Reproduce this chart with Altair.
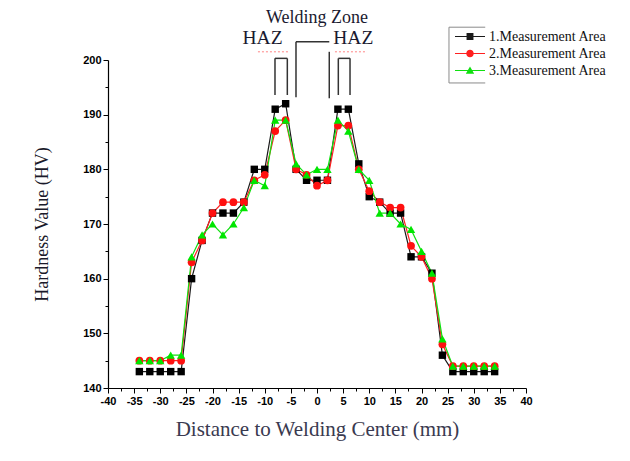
import altair as alt
import pandas as pd

# ---- data ----
distance = [-34, -32, -30, -28, -26, -24, -22, -20, -18, -16, -14, -12, -10, -8, -6, -4, -2, 0,
            2, 4, 6, 8, 10, 12, 14, 16, 18, 20, 22, 24, 26, 28, 30, 32, 34]
area1 = [143, 143, 143, 143, 143, 160, 167, 172, 172, 172, 174, 180, 180, 191, 192, 180, 178, 178,
         178, 191, 191, 181, 175, 174, 172, 172, 164, 164, 161, 146, 143, 143, 143, 143, 143]
area2 = [145, 145, 145, 145, 145, 163, 167, 172, 174, 174, 174, 178, 179, 187, 189, 180, 179, 177,
         178, 188, 188, 180, 176, 174, 173, 173, 166, 164, 160, 148, 144, 144, 144, 144, 144]
area3 = [145, 145, 145, 146, 146, 164, 168, 170, 168, 170, 173, 178, 177, 189, 189, 181, 179, 180,
         180, 189, 187, 180, 178, 172, 172, 170, 169, 165, 161, 149, 144, 144, 144, 144, 144]
series_names = ["1.Measurement Area", "2.Measurement Area", "3.Measurement Area"]
line_colors = ["#1a1a1a", "#ff2020", "#10e010"]
marker_colors = ["#000000", "#ff1010", "#00e600"]
marker_shapes = ["square", "circle", "triangle-up"]
marker_sizes = [55, 60, 70]

x_ticks = [v / 2 for v in range(-80, 81, 5)]
y_ticks = list(range(140, 201, 5))

# annotation brackets (data coordinates, drawn above the plot area)
seg_x1 = [-8.04, -8.04, -5.68, 4.08, 4.08, 6.32, -4.02, -4.02, 2.35]
seg_y1 = [193.6, 200.3, 200.3, 193.6, 200.3, 200.3, 193.2, 203.35, 201.5]
seg_x2 = [-8.04, -5.68, -5.68, 4.08, 6.32, 6.32, -4.02, 2.35, 2.35]
seg_y2 = [200.3, 200.3, 193.6, 200.3, 200.3, 193.6, 203.35, 203.35, 193.0]

red_x1 = [-11.3, 3.44]
red_x2 = [-5.55, 9.57]
red_y = [201.5, 201.5]

box_x1 = [25.26, 25.26, 25.26]
box_y1 = [206.0, 206.0, 195.8]
box_x2 = [32.2, 25.26, 32.2]
box_y2 = [206.0, 195.8, 195.8]

ann_labels = ["Welding Zone", "HAZ", "HAZ"]
ann_x = [0.0, -10.43, 6.95]
ann_y = [206.7, 202.9, 202.9]
ann_size = [18, 19.5, 19.5]

# ---- tables ----
n = len(distance)
df = pd.DataFrame({
    "distance": distance * 3,
    "hardness": area1 + area2 + area3,
    "series": [series_names[0]] * n + [series_names[1]] * n + [series_names[2]] * n,
})
seg_df = pd.DataFrame({"x1": seg_x1, "y1": seg_y1, "x2": seg_x2, "y2": seg_y2})
red_df = pd.DataFrame({"x1": red_x1, "x2": red_x2, "y1": red_y})
box_df = pd.DataFrame({"x1": box_x1, "y1": box_y1, "x2": box_x2, "y2": box_y2})
ann_df = pd.DataFrame({"label": ann_labels, "x": ann_x, "y": ann_y, "fs": ann_size})

xscale = alt.Scale(domain=[-40, 40], nice=False, zero=False)
yscale = alt.Scale(domain=[140, 200], nice=False, zero=False)

PLOT_W, PLOT_H = 418, 328

x_axis = alt.Axis(
    values=x_ticks,
    labelExpr="datum.value % 5 === 0 ? '' + datum.value : ''",
    tickSize={"condition": {"test": "datum.value % 5 !== 0", "value": 3}, "value": 5},
    title="Distance to Welding Center (mm)",
    titleFont="Liberation Serif", titleFontSize=21, titleFontWeight="normal", titleColor="#3a3a50",
    titleX=PLOT_W / 2, titleY=41, titleAlign="center", titleBaseline="middle",
    labelFont="Liberation Sans", labelFontWeight="bold", labelFontSize=11, labelColor="#000000",
    labelPadding=2, labelFlush=False, labelOverlap=False,
    domainColor="#000000", domainWidth=1.2, tickColor="#000000", tickWidth=1, grid=False,
)
y_axis = alt.Axis(
    values=y_ticks,
    labelExpr="datum.value % 10 === 0 ? '' + datum.value : ''",
    tickSize={"condition": {"test": "datum.value % 10 !== 0", "value": 3}, "value": 5},
    title="Hardness Value (HV)",
    titleFont="Liberation Serif", titleFontSize=18, titleFontWeight="normal", titleColor="#1a1a2a",
    titleX=-66, titleY=PLOT_H / 2, titleAngle=270, titleAlign="center", titleBaseline="middle",
    labelFont="Liberation Sans", labelFontWeight="bold", labelFontSize=11, labelColor="#000000",
    labelPadding=2, labelFlush=False, labelOverlap=False,
    domainColor="#000000", domainWidth=1.2, tickColor="#000000", tickWidth=1, grid=False,
)


def X(field):
    return alt.X(field, scale=xscale, axis=x_axis)


def Y(field):
    return alt.Y(field, scale=yscale, axis=y_axis)


base = alt.Chart(df)
layers = []

for name, col in zip(series_names, line_colors):
    layers.append(
        base.transform_filter(alt.datum.series == name)
        .mark_line(color=col, strokeWidth=1.2)
        .encode(x=X("distance:Q"), y=Y("hardness:Q"))
    )

for name, col, shp, sz in zip(series_names, marker_colors, marker_shapes, marker_sizes):
    layers.append(
        base.transform_filter(alt.datum.series == name)
        .mark_point(filled=True, shape=shp, size=sz, color=col, opacity=1)
        .encode(x=X("distance:Q"), y=Y("hardness:Q"))
    )

# legend carrier (no visible marks; legend with line+marker symbols)
legend_paths = [
    "M-1,-0.04H1V0.04H-1Z M-0.23,-0.23H0.23V0.23H-0.23Z",
    "M-1,-0.04H1V0.04H-1Z M-0.25,0A0.25,0.25,0,1,1,0.25,0A0.25,0.25,0,1,1,-0.25,0Z",
    "M-1,-0.04H1V0.04H-1Z M0,-0.27L0.28,0.21L-0.28,0.21Z",
]
leg = alt.Legend(
    orient="none", legendX=347, legendY=-32, title=None, symbolSize=900, clipHeight=17,
    rowPadding=0, padding=0, labelFont="Liberation Serif", labelFontSize=14, labelColor="#111111",
    labelOffset=4, symbolStrokeWidth=0, symbolOpacity=1,
)
layers.append(
    base.transform_filter("false")
    .mark_point(filled=True, size=900, opacity=1)
    .encode(
        x=X("distance:Q"), y=Y("hardness:Q"),
        color=alt.Color("series:N", scale=alt.Scale(domain=series_names, range=line_colors), legend=leg),
        shape=alt.Shape("series:N", scale=alt.Scale(domain=series_names, range=legend_paths), legend=leg),
    )
)

# brackets
layers.append(
    alt.Chart(seg_df).mark_rule(color="#333333", strokeWidth=1.5).encode(
        x=X("x1:Q"), x2="x2:Q", y=Y("y1:Q"), y2="y2:Q",
    )
)
layers.append(
    alt.Chart(red_df).mark_rule(color="#ff5050", strokeWidth=1, strokeDash=[2, 2], opacity=0.7).encode(
        x=X("x1:Q"), x2="x2:Q", y=Y("y1:Q"),
    )
)
layers.append(
    alt.Chart(box_df).mark_rule(color="#8a8a8a", strokeWidth=1).encode(
        x=X("x1:Q"), x2="x2:Q", y=Y("y1:Q"), y2="y2:Q",
    )
)
layers.append(
    alt.Chart(ann_df).mark_text(font="Liberation Serif", baseline="alphabetic", align="center", color="#1a1a30").encode(
        x=X("x:Q"), y=Y("y:Q"),
        text="label:N",
        size=alt.Size("fs:Q", scale=None),
    )
)

chart = (
    alt.layer(*layers)
    .properties(
        width=PLOT_W, height=PLOT_H,
        autosize=alt.AutoSizeParams(type="none"),
        padding={"left": 100, "top": 52, "right": 96, "bottom": 65},
    )
    .configure_view(stroke=None)
)

chart.save("out.html", embed_options={"renderer": "svg", "actions": False})
